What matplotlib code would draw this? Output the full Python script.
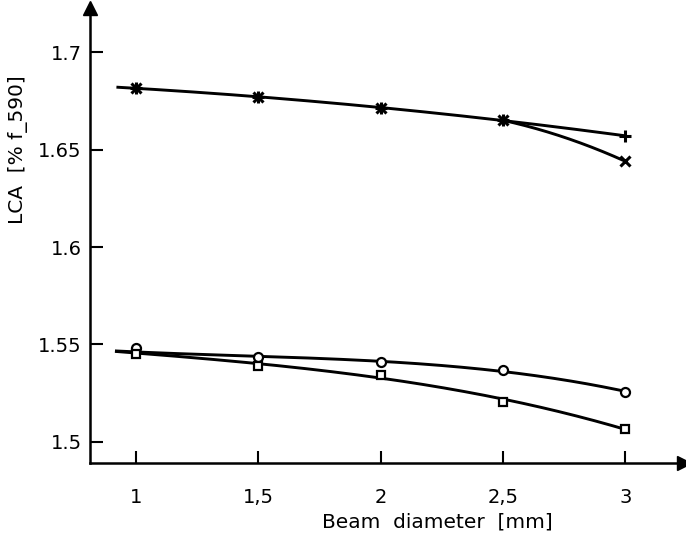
import numpy as np
import matplotlib
matplotlib.use("Agg")
import matplotlib.pyplot as plt

# Data
beam = [1.0, 1.5, 2.0, 2.5, 3.0]
lca_plus = [1.6815, 1.677, 1.6715, 1.665, 1.657]
lca_cross = [1.6815, 1.677, 1.6715, 1.665, 1.644]
lca_circle = [1.548, 1.5438, 1.5408, 1.5367, 1.5258]
lca_square = [1.545, 1.5392, 1.5346, 1.5207, 1.5068]
# where the drawn fit curves begin
curve_start_x = 0.92
top_curve_start = 1.682
bottom_curve_start = 1.5465

xticks = [1.0, 1.5, 2.0, 2.5, 3.0]
xticklabels = ["1", "1,5", "2", "2,5", "3"]
yticks = [1.5, 1.55, 1.6, 1.65, 1.7]
yticklabels = ["1.5", "1.55", "1.6", "1.65", "1.7"]

W, H = 686, 535
fig = plt.figure(figsize=(W / 100, H / 100), dpi=100)
ax = fig.add_axes([90 / W, (H - 463) / H, (684 - 90) / W, (463 - 8) / H])

x0 = 1 - (136 - 90) / 244.6
x1 = 1 + (684 - 136) / 244.6
y0 = 1.5 - (463 - 442) / 1946
y1 = 1.7 + (52 - 8) / 1946
ax.set_xlim(x0, x1)
ax.set_ylim(y0, y1)

lw = 2.1
col = "black"
bx = np.array(beam)


def fit_curve(xs, ys, deg, start, end, anchor=None):
    xs = list(xs)
    ys = list(ys)
    w = [1.0] * len(xs)
    if anchor is not None:
        xs.append(start)
        ys.append(anchor)
        w.append(3.0)
    p = np.polyfit(xs, ys, deg, w=w)
    xx = np.linspace(start, end, 200)
    return xx, np.polyval(p, xx)


# top "+" series
xx, yy = fit_curve(bx, lca_plus, 2, curve_start_x, 3.0, top_curve_start)
ax.plot(xx, yy, color=col, lw=lw, solid_capstyle="butt")
# top "x" series: branch bending down after 2.5
xx, yy = fit_curve(bx[2:], lca_cross[2:], 2, 2.5, 3.0)
ax.plot(xx, yy, color=col, lw=lw)

# bottom series
xx, yy = fit_curve(bx, lca_circle, 3, curve_start_x, 3.0, bottom_curve_start)
ax.plot(xx, yy, color=col, lw=lw)
xx, yy = fit_curve(bx, lca_square, 3, curve_start_x, 3.0, bottom_curve_start)
ax.plot(xx, yy, color=col, lw=lw)

# markers
ax.plot(beam, lca_plus, ls="none", marker="+", ms=9, mew=2.2, color=col)
ax.plot(beam, lca_cross, ls="none", marker="x", ms=7, mew=2.2, color=col)
ax.plot(beam, lca_circle, ls="none", marker="o", ms=6.5, mew=1.6,
        mfc="white", mec=col)
ax.plot(beam, lca_square, ls="none", marker="s", ms=6, mew=1.6,
        mfc="white", mec=col)

# axes styling
for s in ["top", "right"]:
    ax.spines[s].set_visible(False)
for s in ["left", "bottom"]:
    ax.spines[s].set_linewidth(1.8)
ax.set_xticks(xticks)
ax.set_xticklabels(xticklabels)
ax.set_yticks(yticks)
ax.set_yticklabels(yticklabels)
ax.tick_params(axis="both", direction="in", length=9, width=1.5,
               labelsize=14, colors="black")
ax.tick_params(axis="x", pad=18)
ax.tick_params(axis="y", pad=6)

# arrowheads
ax.plot([1], [0], marker=">", ms=10, color=col, transform=ax.transAxes,
        clip_on=False)
ax.plot([0], [1], marker="^", ms=10, color=col, transform=ax.transAxes,
        clip_on=False)

ax.set_xlabel("Beam  diameter  [mm]", fontsize=14.5)
ax.set_ylabel("LCA  [% f_590]", fontsize=14.5)
ax.xaxis.set_label_coords((437 - 90) / (684 - 90), -(512 - 463) / (463 - 8))
ax.yaxis.set_label_coords((28 - 90) / (684 - 90), (463 - 150) / (463 - 8))

fig.savefig("out.png", dpi=100)
